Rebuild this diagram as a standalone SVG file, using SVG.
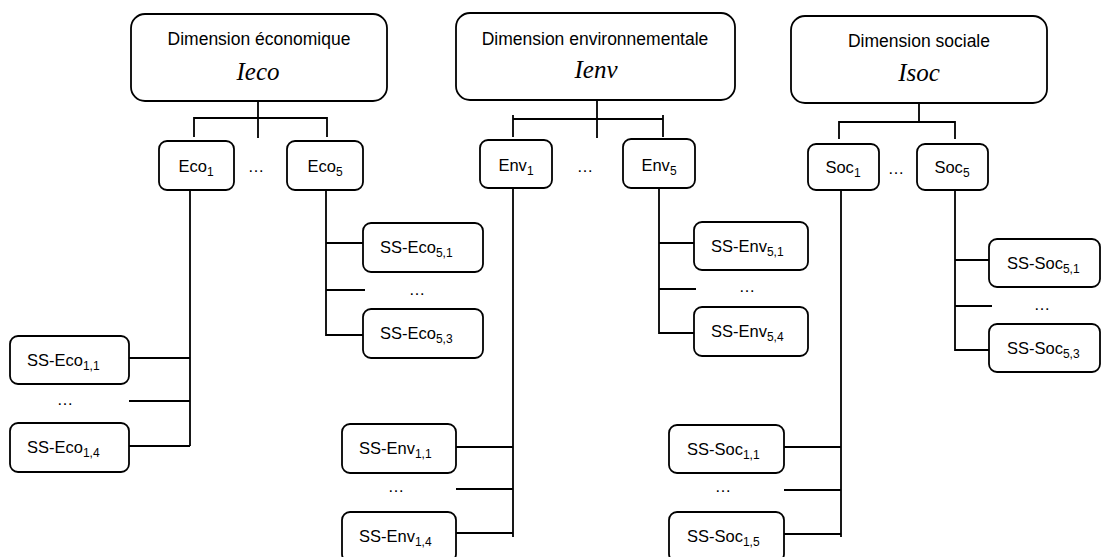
<svg xmlns="http://www.w3.org/2000/svg" width="1102" height="557" viewBox="0 0 1102 557">
<style>
.box{fill:#fff;stroke:#000;stroke-width:1.8}
.ln{fill:none;stroke:#000;stroke-width:1.8}
.t{font-family:"Liberation Sans",Arial,sans-serif;font-size:16.5px;fill:#000}
.tt{font-family:"Liberation Sans",Arial,sans-serif;font-size:17.5px;fill:#000;text-anchor:middle}
.it{font-family:"Liberation Serif","Times New Roman",serif;font-style:italic;font-size:25px;fill:#000;text-anchor:middle}
.c{text-anchor:middle}
.sub{font-size:12px}
</style>
<rect width="1102" height="557" fill="#fff"/>
<g id="connectors">
<path class="ln" d="M258 101V138M194 137V118H327V137M190 190V446M129 358H190M129 401H190M129 446H190M326 190V335H363M326 243H363M326 290H365"/>
<path class="ln" d="M597 100V138M513 115V137M663 115V137M513 119H663M513 188V537M456 447H513M456 489H513M456 533H513M659 188V333H694M659 243H694M659 289H696"/>
<path class="ln" d="M919 103V122M839 139V122H955V139M841 190V537M784 447H841M784 490H841M784 534H841M955 190V350H989M955 260H989M955 306H992"/>
</g>
<g id="dim-eco"><rect class="box" x="131" y="14" width="256" height="87" rx="14"/><text class="tt" x="259" y="45">Dimension économique</text><text class="it" x="258" y="80">Ieco</text></g>
<g id="dim-env"><rect class="box" x="456" y="13" width="279" height="87" rx="14"/><text class="tt" x="595" y="45">Dimension environnementale</text><text class="it" x="596" y="78">Ienv</text></g>
<g id="dim-soc"><rect class="box" x="791" y="16" width="256" height="87" rx="14"/><text class="tt" x="919" y="47">Dimension sociale</text><text class="it" x="919" y="81">Isoc</text></g>

<g id="eco1"><rect class="box" x="159" y="141" width="75" height="49" rx="8"/><text class="t c" x="196" y="172">Eco<tspan class="sub" dy="4">1</tspan></text></g>
<g id="eco5"><rect class="box" x="287" y="141" width="76" height="49" rx="8"/><text class="t c" x="325" y="172">Eco<tspan class="sub" dy="4">5</tspan></text></g>
<text class="t c" x="256" y="172">…</text>
<g id="env1"><rect class="box" x="480" y="140" width="72" height="48" rx="8"/><text class="t c" x="516" y="171">Env<tspan class="sub" dy="4">1</tspan></text></g>
<g id="env5"><rect class="box" x="623" y="139" width="72" height="49" rx="8"/><text class="t c" x="659" y="171">Env<tspan class="sub" dy="4">5</tspan></text></g>
<text class="t c" x="585" y="172">…</text>
<g id="soc1"><rect class="box" x="808" y="144" width="71" height="46" rx="8"/><text class="t c" x="843" y="173">Soc<tspan class="sub" dy="4">1</tspan></text></g>
<g id="soc5"><rect class="box" x="917" y="144" width="71" height="46" rx="8"/><text class="t c" x="952" y="173">Soc<tspan class="sub" dy="4">5</tspan></text></g>
<text class="t c" x="896" y="174">…</text>

<g id="ss-eco-1-1"><rect class="box" x="10" y="336" width="119" height="48" rx="8"/><text class="t" x="27" y="366">SS-Eco<tspan class="sub" dy="4">1,1</tspan></text></g>
<text class="t c" x="65" y="405">…</text>
<g id="ss-eco-1-4"><rect class="box" x="10" y="423" width="119" height="49" rx="8"/><text class="t" x="27" y="453">SS-Eco<tspan class="sub" dy="4">1,4</tspan></text></g>
<g id="ss-eco-5-1"><rect class="box" x="363" y="223" width="120" height="49" rx="8"/><text class="t" x="380" y="253">SS-Eco<tspan class="sub" dy="4">5,1</tspan></text></g>
<text class="t c" x="417" y="295">…</text>
<g id="ss-eco-5-3"><rect class="box" x="363" y="309" width="120" height="49" rx="8"/><text class="t" x="380" y="339">SS-Eco<tspan class="sub" dy="4">5,3</tspan></text></g>

<g id="ss-env-1-1"><rect class="box" x="342" y="424" width="114" height="49" rx="8"/><text class="t" x="359" y="454">SS-Env<tspan class="sub" dy="4">1,1</tspan></text></g>
<text class="t c" x="396" y="492">…</text>
<g id="ss-env-1-4"><rect class="box" x="342" y="512" width="114" height="50" rx="8"/><text class="t" x="359" y="542">SS-Env<tspan class="sub" dy="4">1,4</tspan></text></g>
<g id="ss-env-5-1"><rect class="box" x="694" y="222" width="114" height="48" rx="8"/><text class="t" x="711" y="252">SS-Env<tspan class="sub" dy="4">5,1</tspan></text></g>
<text class="t c" x="747" y="292">…</text>
<g id="ss-env-5-4"><rect class="box" x="694" y="307" width="114" height="49" rx="8"/><text class="t" x="711" y="337">SS-Env<tspan class="sub" dy="4">5,4</tspan></text></g>

<g id="ss-soc-1-1"><rect class="box" x="669" y="425" width="115" height="48" rx="8"/><text class="t" x="687" y="455">SS-Soc<tspan class="sub" dy="4">1,1</tspan></text></g>
<text class="t c" x="723" y="492">…</text>
<g id="ss-soc-1-5"><rect class="box" x="669" y="512" width="115" height="50" rx="8"/><text class="t" x="687" y="542">SS-Soc<tspan class="sub" dy="4">1,5</tspan></text></g>
<g id="ss-soc-5-1"><rect class="box" x="989" y="239" width="111" height="48" rx="8"/><text class="t" x="1007" y="269">SS-Soc<tspan class="sub" dy="4">5,1</tspan></text></g>
<text class="t c" x="1042" y="310">…</text>
<g id="ss-soc-5-3"><rect class="box" x="989" y="324" width="111" height="48" rx="8"/><text class="t" x="1007" y="354">SS-Soc<tspan class="sub" dy="4">5,3</tspan></text></g>
</svg>
